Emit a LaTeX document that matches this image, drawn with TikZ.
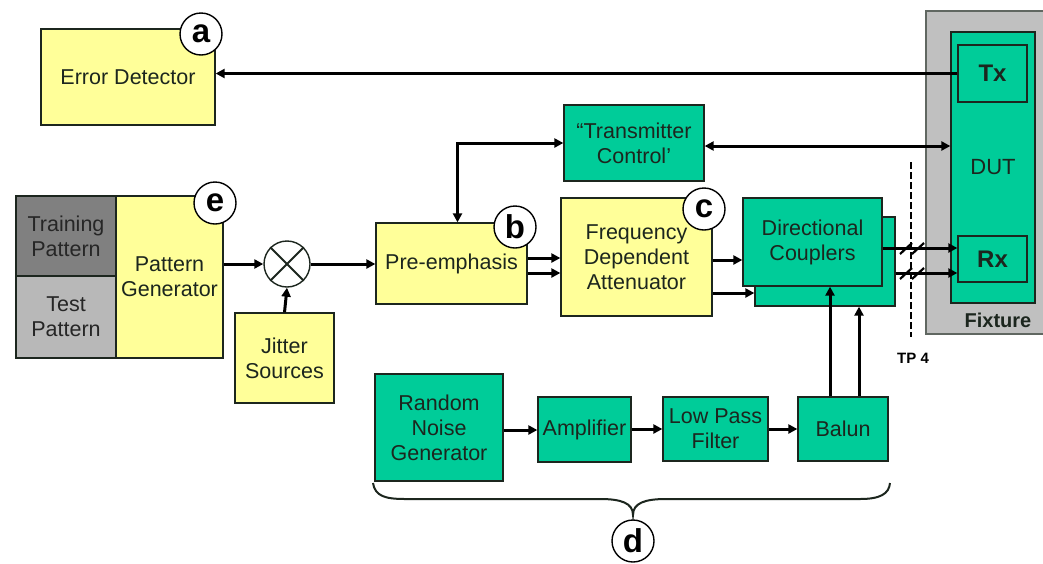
\documentclass[tikz,border=0pt]{standalone}
\usepackage{fontspec}
\setmainfont{Liberation Sans}
\usetikzlibrary{arrows.meta}
\definecolor{boxyellow}{HTML}{FFFF99}
\definecolor{boxgreen}{HTML}{00CC99}
\definecolor{fixgray}{HTML}{C0C0C0}
\definecolor{traingray}{HTML}{808080}
\definecolor{testgray}{HTML}{B8B8B8}
\definecolor{ink}{HTML}{1C261E}

\begin{document}
\begin{tikzpicture}[x=1pt,y=-1pt,
  >={Triangle[length=9pt,width=9pt]},
  blk/.style={draw=ink, line width=1.3pt, inner sep=0pt, align=center, text=ink,
              font=\fontsize{21.5}{25}\selectfont},
  ybox/.style={blk, fill=boxyellow},
  gbox/.style={blk, fill=boxgreen},
  pbox/.style={blk, fill=#1, text=black!85},
  tag/.style={circle, draw=black, line width=1.4pt, fill=white, minimum size=42pt,
              inner sep=0pt, font=\bfseries\fontsize{33}{33}\selectfont},
  link/.style={line width=3pt, ->},
  dlink/.style={line width=3pt, <->},
  cut/.style={line width=2.2pt},
]
\useasboundingbox (0,0) rectangle (1043,563);
\fill[white] (0,0) rectangle (1043,563);

% error detector
\node[ybox, minimum width=174pt, minimum height=96pt] (err) at (128,77) {Error Detector};
\node[tag] (ta) at (201,34) {a};

% pattern sources
\node[pbox=traingray, minimum width=100pt, minimum height=80pt] (train) at (66,236) {Training\\Pattern};
\node[pbox=testgray, minimum width=100pt, minimum height=82pt] (test) at (66,317) {Test\\Pattern};
\node[ybox, minimum width=107pt, minimum height=162pt] (pg) at (169.5,277) {Pattern\\Generator};
\node[tag] (te) at (215,203) {e};

% jitter injection
\node[circle, draw=ink, line width=1.4pt, fill=white, minimum size=46pt, inner sep=0pt] (mix) at (287,264) {};
\draw[ink, line width=1.8pt] (mix.45) -- (mix.225) (mix.135) -- (mix.315);
\node[ybox, minimum width=99pt, minimum height=90pt] (jit) at (284.5,358) {Jitter\\Sources};

% transmit path
\node[ybox, minimum width=151pt, minimum height=81pt] (pre) at (451.5,263.5) {Pre-emphasis};
\node[tag] (tb) at (515,227) {b};
\node[gbox, minimum width=140pt, minimum height=76pt] (tc) at (634,143) {“Transmitter\\Control’};
\node[ybox, minimum width=151pt, minimum height=118pt] (fda) at (636.5,257) {Frequency\\Dependent\\Attenuator};
\node[tag] (tcirc) at (704,209) {c};
\node[gbox, minimum width=140pt, minimum height=89pt] (dcb) at (825,261.5) {};
\node[gbox, minimum width=139pt, minimum height=88pt] (dc) at (812.5,242) {Directional\\Couplers};

% fixture with device under test
\node[draw=ink!70, line width=1.2pt, fill=fixgray, minimum width=124pt, minimum height=323pt, inner sep=0pt] (fix) at (988,172.5) {};
\node[gbox, minimum width=84pt, minimum height=271pt, font=\fontsize{22}{25}\selectfont] (dut) at (993,167.5) {DUT};
\node[gbox, minimum width=69pt, minimum height=57pt, font=\bfseries\fontsize{24}{25}\selectfont] (tx) at (992.5,73.5) {Tx};
\node[gbox, minimum width=69pt, minimum height=46pt, font=\bfseries\fontsize{24}{25}\selectfont] (rx) at (992.5,259) {Rx};
\node[text=ink, font=\bfseries\fontsize{20}{20}\selectfont] (fixlbl) at (998,320) {Fixture};

% test point
\coordinate (tptop) at (911,162);
\coordinate (tpbot) at (911,337);
\draw[line width=2.2pt, dash pattern=on 7pt off 3pt] (tptop) -- (tpbot);
\node[font=\bfseries\fontsize{15}{16}\selectfont] (tp) at (913,358) {TP 4};

% noise chain
\node[gbox, minimum width=128pt, minimum height=107pt] (rng) at (439,427.5) {Random\\Noise\\Generator};
\node[gbox, minimum width=93pt, minimum height=65pt] (amp) at (584.5,429.5) {Amplifier};
\node[gbox, minimum width=105pt, minimum height=64pt] (lpf) at (715.5,429) {Low Pass\\Filter};
\node[gbox, minimum width=90pt, minimum height=64pt] (bal) at (843,429) {Balun};

% connectors
\draw[link] (tx.west) -- (tx.west -| err.east);
\draw[dlink] (tc.east |- 0,146) -- (dut.west |- 0,146);
\draw[dlink] (tc.west) -| ([xshift=6pt]pre.north);
\draw[link] (pg.east |- mix.west) -- (mix.west);
\draw[link] (mix.east) -- (mix.east -| pre.west);
\draw[link] (jit.north) -- (mix.south);
\draw[link] (pre.east |- 0,258) -- (fda.west |- 0,258);
\draw[link] (pre.east |- 0,273) -- (fda.west |- 0,273);
\draw[link] (fda.east |- 0,260) -- (dc.west |- 0,260);
\draw[link] (fda.east |- 0,293) -- (dcb.west |- 0,293);
\draw[link] (dc.east |- 0,248) -- (rx.west |- 0,248);
\draw[link] (dcb.east |- 0,273) -- (rx.west |- 0,273);
\draw[link] (bal.north -| 830,0) -- (dc.south -| 830,0);
\draw[link] (bal.north -| 859,0) -- (dcb.south -| 859,0);
\draw[link] (rng.east |- 0,430) -- (amp.west |- 0,430);
\draw[link] (amp.east |- 0,429) -- (lpf.west |- 0,429);
\draw[link] (lpf.east |- 0,429) -- (bal.west |- 0,429);

% break marks on the lines crossing TP 4
\foreach \yy in {248,273}{
  \draw[cut] (900,\yy+6) -- (912,\yy-5);
  \draw[cut] (912,\yy+6) -- (924,\yy-5);
}

% brace grouping the noise chain
\coordinate (brl) at (373,483);
\coordinate (brr) at (890,483);
\coordinate (brtip) at (633,515);
\draw[line width=2pt, ink] (brl) .. controls (375,496) and (385,499) .. (405,499) -- (600,499)
  .. controls (621,499) and (633,503) .. (brtip)
  .. controls (633,503) and (645,499) .. (666,499) -- (860,499)
  .. controls (880,499) and (889,494) .. (brr);
\node[tag] (td) at (633,541) {d};
\end{tikzpicture}
\end{document}
